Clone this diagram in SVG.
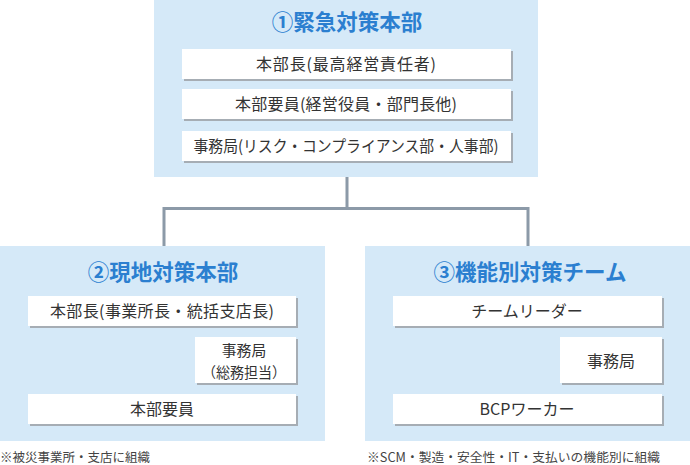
<svg xmlns="http://www.w3.org/2000/svg" width="690" height="465" viewBox="0 0 690 465">
<defs>
<style>
.panel{fill:#d5e9f8}
.box{fill:#ffffff}
.shadow{fill:#a6adb4}
.title{font-family:"Noto Sans CJK JP","Noto Sans",sans-serif;font-weight:bold;font-size:21.5px;fill:#2b7fd0;text-anchor:middle}
.lbl{font-family:"Noto Sans CJK JP","Noto Sans",sans-serif;font-size:16px;fill:#333333;text-anchor:middle}
.lbl2{font-family:"Noto Sans CJK JP","Noto Sans",sans-serif;font-size:14.8px;fill:#333333;text-anchor:middle}
.note{font-family:"Noto Sans CJK JP","Noto Sans",sans-serif;font-size:12.5px;fill:#444444}
.conn{stroke:#8c9aa8;stroke-width:3;fill:none}
</style>
</defs>
<rect width="690" height="465" fill="#ffffff"/>
<g id="connectors">
<path class="conn" d="M347 177 V208.5 H164 V246 M347 208.5 H528 V246"/>
<path class="conn" d="M164 326 V394 M164 360.5 H195"/>
<path class="conn" d="M528 326 V394 M528 360.5 H560"/>
</g>
<g id="hq">
<rect class="panel" x="154" y="0" width="384" height="177"/>
<text class="title" x="347" y="30">①緊急対策本部</text>
<g id="hq-head">
<rect class="shadow" x="184" y="51" width="329" height="30"/>
<rect class="box" x="182" y="49" width="329" height="30"/>
<text class="lbl" x="346" y="70" textLength="180" lengthAdjust="spacing">本部長(最高経営責任者)</text>
</g>
<g id="hq-members">
<rect class="shadow" x="184" y="91" width="329" height="30"/>
<rect class="box" x="182" y="89" width="329" height="30"/>
<text class="lbl" x="346" y="110" textLength="222" lengthAdjust="spacing">本部要員(経営役員・部門長他)</text>
</g>
<g id="hq-office">
<rect class="shadow" x="184" y="133" width="329" height="30"/>
<rect class="box" x="182" y="131" width="329" height="30"/>
<text class="lbl" x="346" y="152" textLength="305" lengthAdjust="spacingAndGlyphs">事務局(リスク・コンプライアンス部・人事部)</text>
</g>
</g>
<g id="local">
<rect class="panel" x="0" y="246" width="325" height="195"/>
<text class="title" x="163" y="280">②現地対策本部</text>
<g id="local-head">
<rect class="shadow" x="30" y="298" width="268" height="30"/>
<rect class="box" x="28" y="296" width="268" height="30"/>
<text class="lbl" x="162" y="317" textLength="224" lengthAdjust="spacing">本部長(事業所長・統括支店長)</text>
</g>
<g id="local-office">
<rect class="shadow" x="197" y="339" width="101" height="46"/>
<rect class="box" x="195" y="337" width="101" height="46"/>
<text class="lbl2" x="244" y="356">事務局</text>
<text class="lbl2" x="244" y="377.5" textLength="84" lengthAdjust="spacingAndGlyphs">（総務担当）</text>
</g>
<g id="local-members">
<rect class="shadow" x="30" y="396" width="268" height="30"/>
<rect class="box" x="28" y="394" width="268" height="30"/>
<text class="lbl" x="162" y="415">本部要員</text>
</g>
<text class="note" x="0" y="462">※被災事業所・支店に組織</text>
</g>
<g id="func">
<rect class="panel" x="365" y="246" width="325" height="195"/>
<text class="title" x="530" y="280">③機能別対策チーム</text>
<g id="func-leader">
<rect class="shadow" x="395" y="298" width="269" height="30"/>
<rect class="box" x="393" y="296" width="269" height="30"/>
<text class="lbl" x="527" y="317">チームリーダー</text>
</g>
<g id="func-office">
<rect class="shadow" x="562" y="339" width="102" height="46"/>
<rect class="box" x="560" y="337" width="102" height="46"/>
<text class="lbl" x="611" y="366.5">事務局</text>
</g>
<g id="func-workers">
<rect class="shadow" x="395" y="396" width="269" height="30"/>
<rect class="box" x="393" y="394" width="269" height="30"/>
<text class="lbl" x="527" y="415">BCPワーカー</text>
</g>
<text class="note" x="367" y="462" textLength="293" lengthAdjust="spacingAndGlyphs">※SCM・製造・安全性・IT・支払いの機能別に組織</text>
</g>
</svg>
